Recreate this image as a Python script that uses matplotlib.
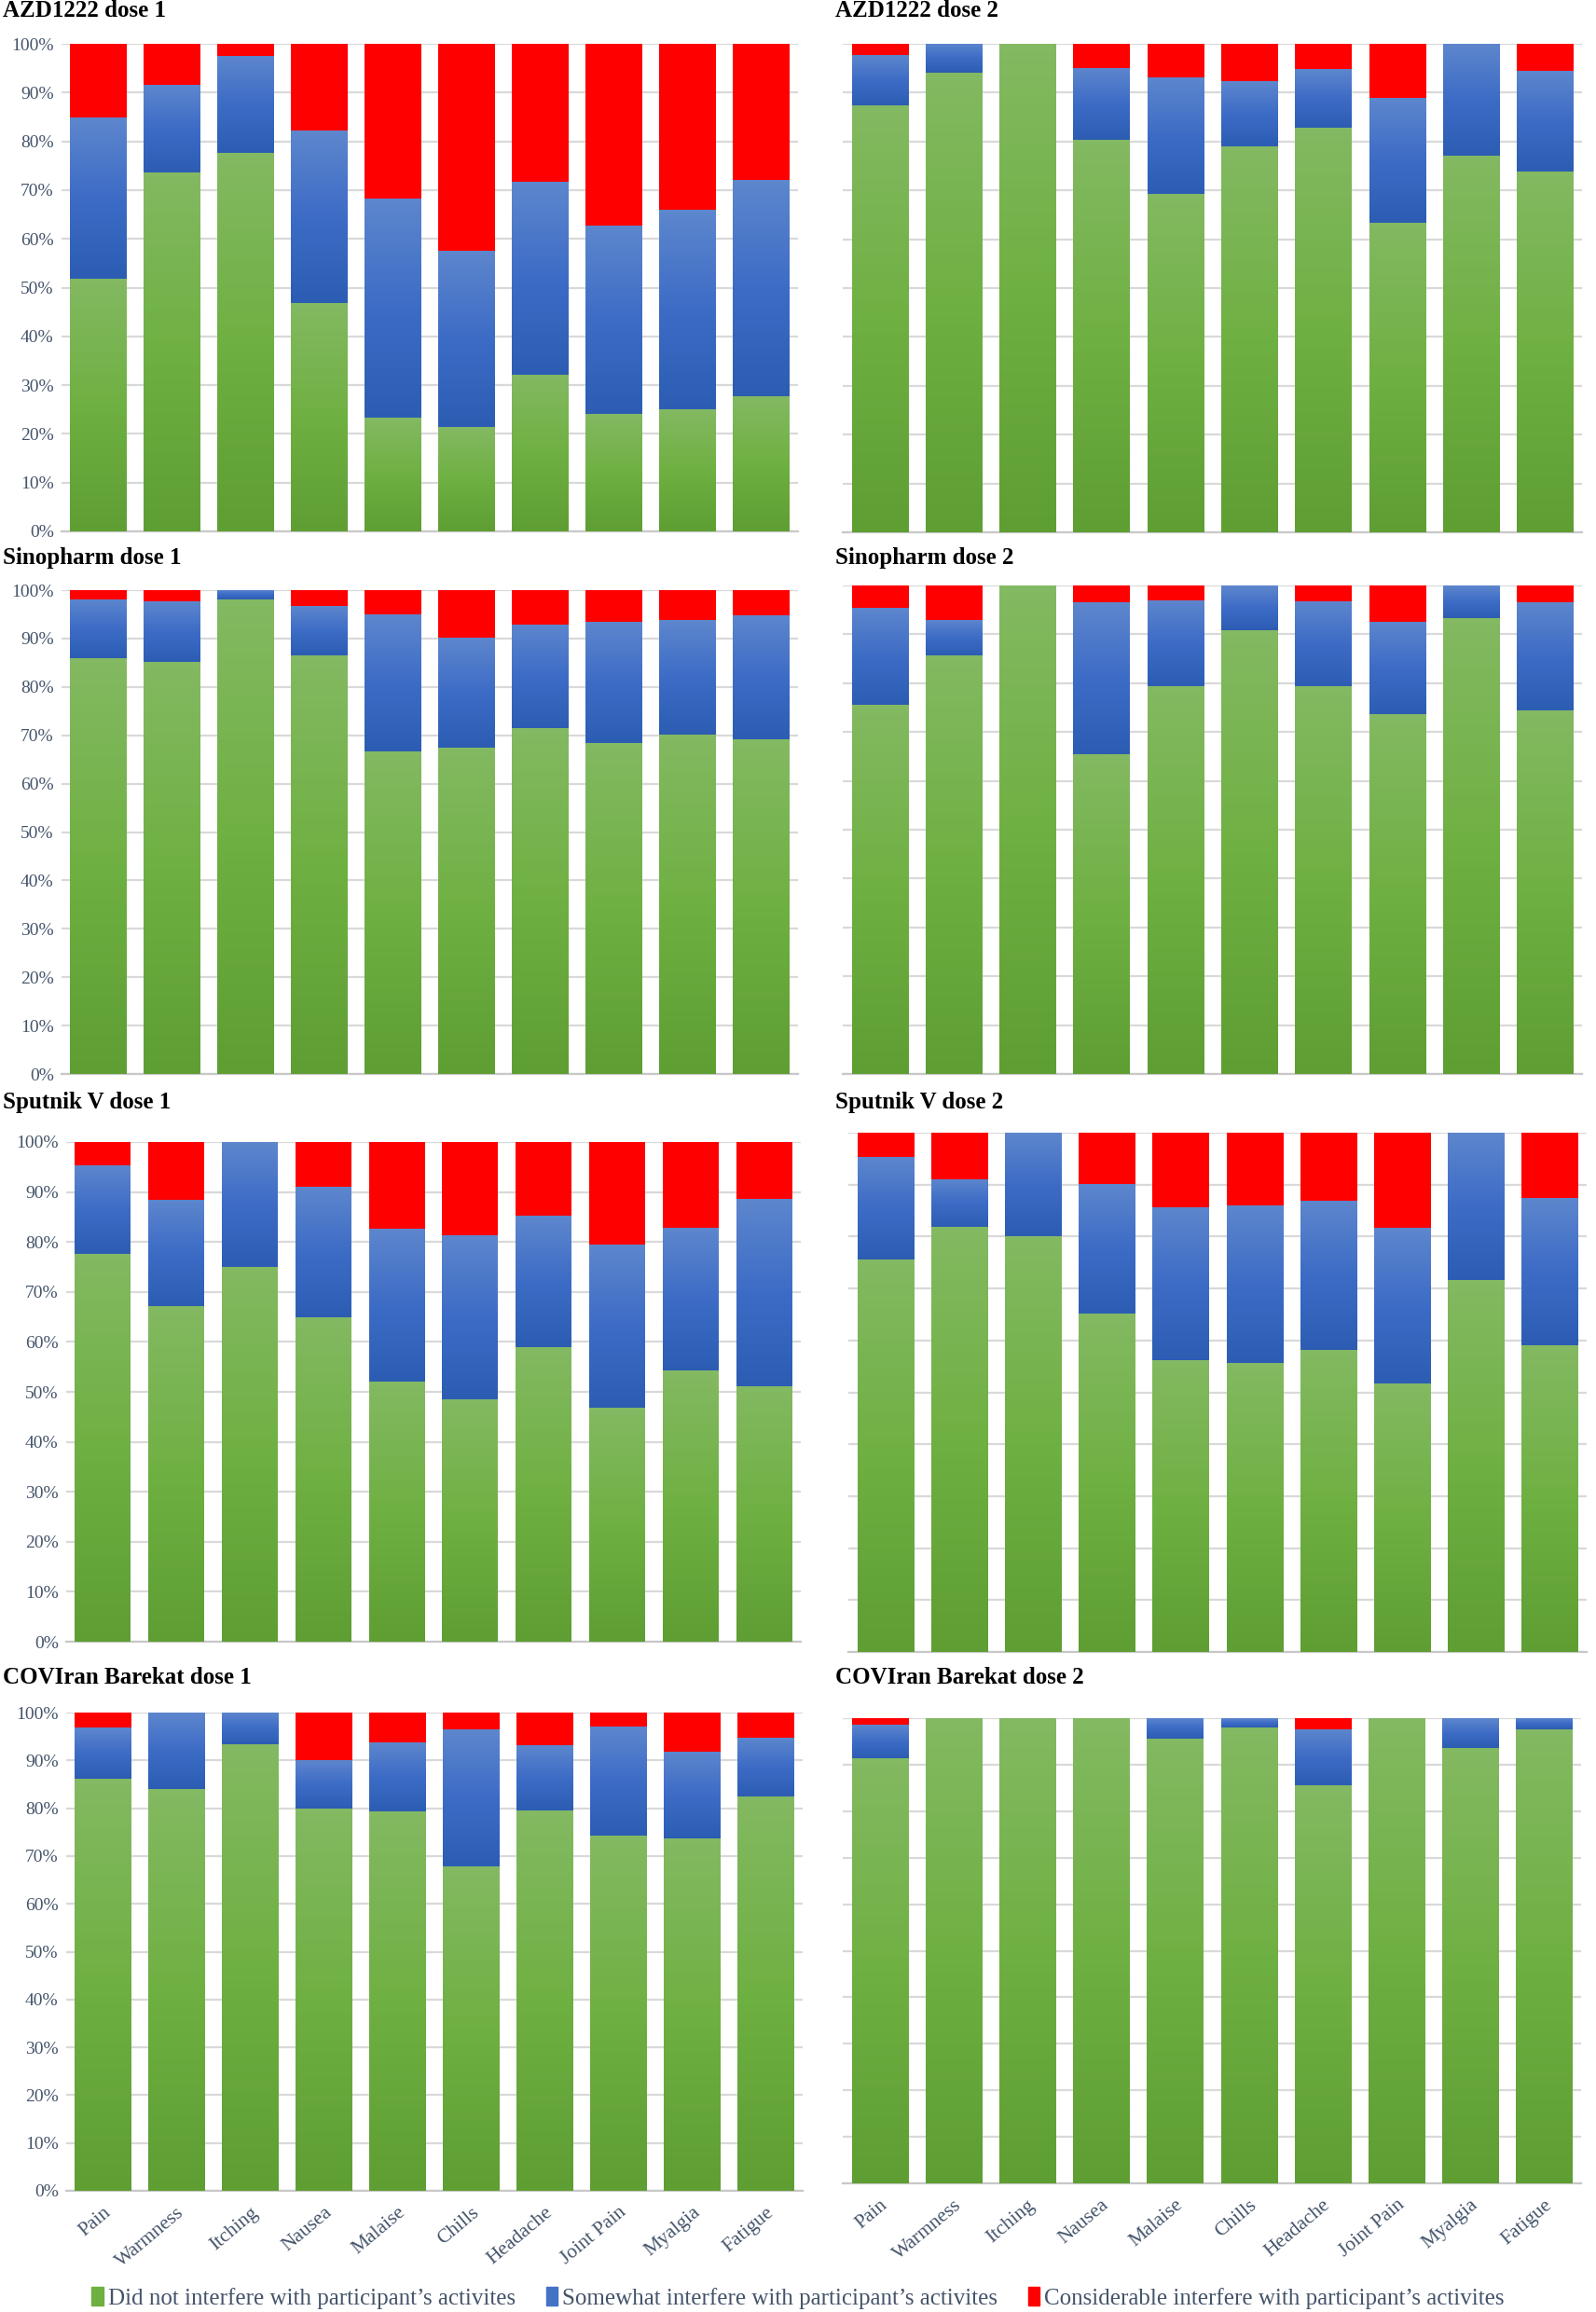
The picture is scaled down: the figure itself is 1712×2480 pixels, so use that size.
import numpy as np
import matplotlib
matplotlib.use("Agg")
import matplotlib.pyplot as plt
from matplotlib.patches import Patch
from matplotlib.colors import LinearSegmentedColormap

plt.rcParams['font.family'] = ['Liberation Serif', 'DejaVu Serif']

symptoms = ["Pain", "Warmness", "Itching", "Nausea", "Malaise",
            "Chills", "Headache", "Joint Pain", "Myalgia", "Fatigue"]

# share (%) of "did not interfere" and cumulative top of "somewhat interfere"
azd1_none = [51.9, 73.7, 77.6, 46.9, 23.3, 21.4, 32.2, 24.1, 25.1, 27.7]
azd1_some = [84.8, 91.6, 97.5, 82.2, 68.2, 57.6, 71.7, 62.7, 65.9, 72.0]
azd2_none = [87.4, 94.0, 100, 80.3, 69.3, 79.1, 82.9, 63.4, 77.1, 73.8]
azd2_some = [97.7, 100, 100, 95.1, 93.2, 92.3, 94.9, 89.0, 100, 94.5]
sino1_none = [85.9, 85.2, 98.0, 86.5, 66.7, 67.5, 71.4, 68.4, 70.2, 69.1]
sino1_some = [98.1, 97.7, 100, 96.7, 95.0, 90.1, 92.9, 93.4, 93.8, 94.8]
sino2_none = [75.6, 85.7, 100, 65.5, 79.3, 90.9, 79.3, 73.6, 93.4, 74.4]
sino2_some = [95.5, 93.0, 100, 96.5, 97.0, 100, 96.8, 92.6, 100, 96.5]
sput1_none = [77.7, 67.2, 75.0, 64.9, 52.1, 48.5, 59.0, 46.8, 54.2, 51.2]
sput1_some = [95.3, 88.5, 100, 91.0, 82.7, 81.4, 85.2, 79.4, 82.9, 88.7]
sput2_none = [75.6, 81.8, 80.1, 65.1, 56.2, 55.6, 58.1, 51.7, 71.6, 59.0]
sput2_some = [95.4, 91.0, 100, 90.1, 85.7, 86.0, 86.9, 81.7, 100, 87.5]
cov1_none = [86.2, 84.0, 93.3, 80.0, 79.4, 67.8, 79.5, 74.3, 73.7, 82.5]
cov1_some = [96.9, 100, 100, 90.0, 93.7, 96.4, 93.1, 97.0, 91.9, 94.8]
cov2_none = [91.4, 100, 100, 100, 95.5, 98.0, 85.5, 100, 93.6, 97.5]
cov2_some = [98.5, 100, 100, 100, 100, 100, 97.6, 100, 100, 100]

legend_labels = ["Did not interfere with participant\u2019s activites",
                 "Somewhat interfere with participant\u2019s activites",
                 "Considerable interfere with participant\u2019s activites"]

W, H = 1712, 2480
# title, data, axes box in pixels (x0, x1, top, bottom), title y, y labels, x labels
panels = [
    ("AZD1222 dose 1", azd1_none, azd1_some, (66, 856, 47, 570), 11, True, False),
    ("AZD1222 dose 2", azd2_none, azd2_some, (904, 1697, 47, 571), 11, False, False),
    ("Sinopharm dose 1", sino1_none, sino1_some, (66, 856, 633, 1152), 598, True, False),
    ("Sinopharm dose 2", sino2_none, sino2_some, (904, 1697, 628, 1152), 598, False, False),
    ("Sputnik V dose 1", sput1_none, sput1_some, (71, 859, 1225, 1761), 1183, True, False),
    ("Sputnik V dose 2", sput2_none, sput2_some, (910, 1702, 1215, 1772), 1183, False, False),
    ("COVIran Barekat dose 1", cov1_none, cov1_some, (71, 861, 1837, 2350), 1799, True, True),
    ("COVIran Barekat dose 2", cov2_none, cov2_some, (904, 1696, 1843, 2342), 1799, False, True),
]

green_cm = LinearSegmentedColormap.from_list("g", ["#5e9e33", "#6fb042", "#83b962"])
blue_cm = LinearSegmentedColormap.from_list("b", ["#2c5db3", "#3d6cc6", "#5d86cd"])
red_cm = LinearSegmentedColormap.from_list("r", ["#ff0000", "#ff0000"])
tick_col = "#44546a"

fig = plt.figure(figsize=(W / 100, H / 100), dpi=100)
grad = np.linspace(0, 1, 64).reshape(-1, 1)

for title, none_v, some_v, (x0, x1, yt, yb), ty, ylab, xlab in panels:
    ax = fig.add_axes([x0 / W, 1 - yb / H, (x1 - x0) / W, (yb - yt) / H])
    x = np.arange(len(symptoms))
    none_v = np.array(none_v)
    some_v = np.array(some_v)
    layers = [(np.zeros(10), none_v, green_cm, "#6fb042"),
              (none_v, some_v - none_v, blue_cm, "#4472c4"),
              (some_v, 100 - some_v, red_cm, "#ff0000")]
    for bottom, height, cm, col in layers:
        bars = ax.bar(x, height, 0.76, bottom=bottom, color=col, zorder=2)
        for p in bars:
            if p.get_height() <= 0:
                continue
            bx, by = p.get_x(), p.get_y()
            ax.imshow(grad, cmap=cm, origin="lower", aspect="auto", zorder=3,
                      extent=[bx, bx + p.get_width(), by, by + p.get_height()])
    ax.set_xlim(-0.5, 9.5)
    ax.set_ylim(0, 100)
    ax.set_yticks(np.arange(0, 101, 10))
    ax.yaxis.grid(True, color="#d9d9d9", linewidth=1.6, zorder=0)
    ax.set_axisbelow(True)
    for s in ["top", "right", "left"]:
        ax.spines[s].set_visible(False)
    ax.spines["bottom"].set_color("#c8c8c8")
    ax.spines["bottom"].set_linewidth(1.6)
    ax.tick_params(length=0)
    if ylab:
        ax.set_yticklabels([f"{v}%" for v in range(0, 101, 10)],
                           fontsize=14, color=tick_col)
        ax.tick_params(axis="y", pad=6)
    else:
        ax.set_yticklabels([])
    ax.set_xticks(x)
    if xlab:
        ax.set_xticklabels(symptoms, rotation=40, ha="right",
                           rotation_mode="anchor", fontsize=15.5, color=tick_col)
        ax.tick_params(axis="x", pad=10)
    else:
        ax.set_xticklabels([])
    tx = 3 if x0 < 500 else 896
    fig.text(tx / W, 1 - ty / H, title, fontsize=18, fontweight="bold",
             ha="left", va="center")

handles = [Patch(color=c) for c in ["#6fb042", "#4472c4", "#ff0000"]]
fig.legend(handles, legend_labels, loc="center", bbox_to_anchor=(0.5, 1 - 2465 / H),
           ncol=3, frameon=False, fontsize=18, handlelength=0.5, handleheight=0.8,
           handletextpad=0.2, columnspacing=1.3, labelcolor=tick_col)

fig.savefig("out.png", dpi=100)
